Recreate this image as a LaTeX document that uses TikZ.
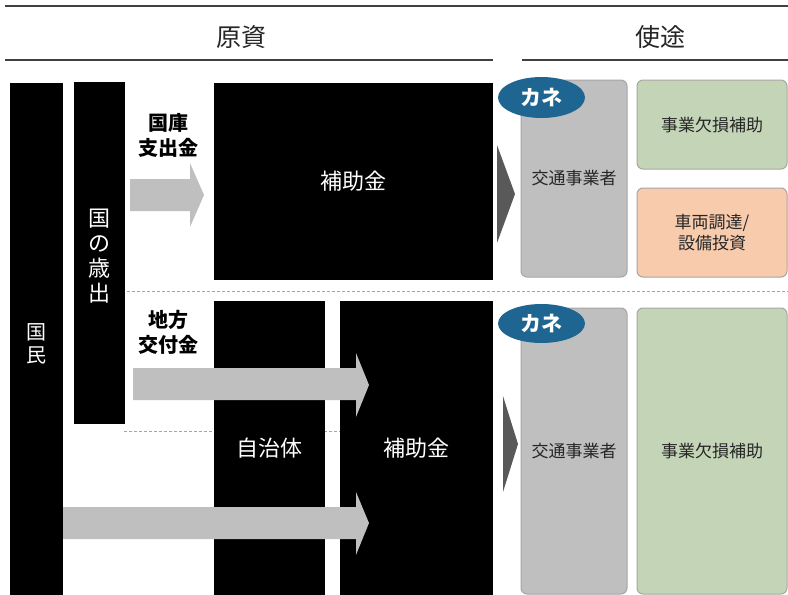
\documentclass[tikz,border=0pt]{standalone}
\usepackage{fontspec}
\setmainfont{Noto Sans CJK JP}
\usetikzlibrary{shapes.geometric}
\definecolor{arrowgray}{HTML}{BFBFBF}
\definecolor{darktri}{HTML}{595959}
\definecolor{boxgray}{HTML}{BFBFBF}
\definecolor{edgegray}{HTML}{A6A6A6}
\definecolor{sage}{HTML}{C4D5B7}
\definecolor{peach}{HTML}{F8CBAD}
\definecolor{kaneblue}{HTML}{1F6591}
\definecolor{txt}{HTML}{262626}
\definecolor{rule}{HTML}{404040}
\tikzset{
  blackbox/.style={fill=black, draw=none, inner sep=0pt, text=white},
  usebox/.style={rounded corners=6pt, draw=edgegray, line width=1pt, inner sep=0pt, text=txt, font=\fontsize{17}{21}\selectfont, align=center},
  kane/.style={ellipse, fill=kaneblue, draw=none, inner sep=0pt, text=white, font=\fontsize{21}{24}\selectfont\bfseries},
  flowarrow/.style={fill=arrowgray, draw=none},
  pointer/.style={fill=darktri, draw=none},
  sepline/.style={draw=edgegray, line width=0.9pt, dash pattern=on 3pt off 2pt},
  header/.style={text=txt, font=\fontsize{25}{30}\selectfont},
  lbl/.style={text=black, font=\fontsize{20}{25}\selectfont\bfseries, align=center},
  wlabel/.style={text=white, align=center, inner sep=0pt}
}
\begin{document}
\begin{tikzpicture}[x=1pt,y=-1pt]
\useasboundingbox (0,0) rectangle (788,595);
\fill[white] (0,0) rectangle (788,595);
% rules
\draw[rule, line width=1.6pt] (5,6) -- (788,6);
\draw[rule, line width=1.6pt] (5,60) -- (493,60);
\draw[rule, line width=1.6pt] (522,60) -- (788,60);
\node[header] (gen) at (241,37) {原資};
\node[header] (shi) at (660,37) {使途};
% dashed separators
\draw[sepline] (127,291) -- (788,291);
\draw[sepline] (124,431) -- (340,431);
% black boxes
\node[blackbox, minimum width=53pt, minimum height=512pt] (kokumin) at (36.5,339) {};
\node[wlabel, font=\fontsize{20}{23}\selectfont] at (36,344) {国\\民};
\node[blackbox, minimum width=51pt, minimum height=342pt] (saishutsu) at (99.5,253) {};
\node[wlabel, font=\fontsize{22}{25}\selectfont] at (99.5,256) {国\\の\\歳\\出};
\node[blackbox, minimum width=279pt, minimum height=197pt, font=\fontsize{22}{26}\selectfont] (hojo1) at (353.5,181.5) {補助金};
\node[blackbox, minimum width=111pt, minimum height=294pt, font=\fontsize{22}{26}\selectfont] (jichitai) at (269.5,448) {};
\node[blackbox, minimum width=153pt, minimum height=294pt, font=\fontsize{22}{26}\selectfont] (hojo2) at (416.5,448) {};
% labels
\node[lbl] (kokko) at (168,135) {国庫\\支出金};
\node[lbl] (chiho) at (168,332) {地方\\交付金};
% flow arrows
\fill[flowarrow] (130,179) -- (190,179) -- (190,163) -- (204,195) -- (190,227) -- (190,211) -- (130,211) -- cycle;
\fill[flowarrow] (133,368) -- (356,368) -- (356,353) -- (369,385) -- (356,417) -- (356,400) -- (133,400) -- cycle;
\fill[flowarrow] (63,507) -- (356,507) -- (356,492) -- (369,523) -- (356,555) -- (356,539) -- (63,539) -- cycle;
\node[wlabel, font=\fontsize{22}{26}\selectfont] at (jichitai) {自治体};
\node[wlabel, font=\fontsize{22}{26}\selectfont] at (hojo2) {補助金};
% pointers
\fill[pointer] (497,145) -- (515,194) -- (497,243) -- cycle;
\fill[pointer] (503,396) -- (518,444) -- (503,492) -- cycle;
% use boxes
\node[usebox, fill=boxgray, minimum width=106pt, minimum height=197pt] (op1) at (574,178.5) {交通事業者};
\node[usebox, fill=sage, minimum width=150pt, minimum height=89pt] (def1) at (712,124.5) {事業欠損補助};
\node[usebox, fill=peach, minimum width=150pt, minimum height=89pt] (inv) at (712,232.5) {車両調達/\\設備投資};
\node[usebox, fill=boxgray, minimum width=106pt, minimum height=286pt] (op2) at (574,451) {交通事業者};
\node[usebox, fill=sage, minimum width=150pt, minimum height=286pt] (def2) at (712,451) {事業欠損補助};
\node[kane, minimum width=87pt, minimum height=41pt] (kane1) at (541.5,97.5) {カネ};
\node[kane, minimum width=87pt, minimum height=39pt] (kane2) at (541.5,323.5) {カネ};
\end{tikzpicture}
\end{document}
